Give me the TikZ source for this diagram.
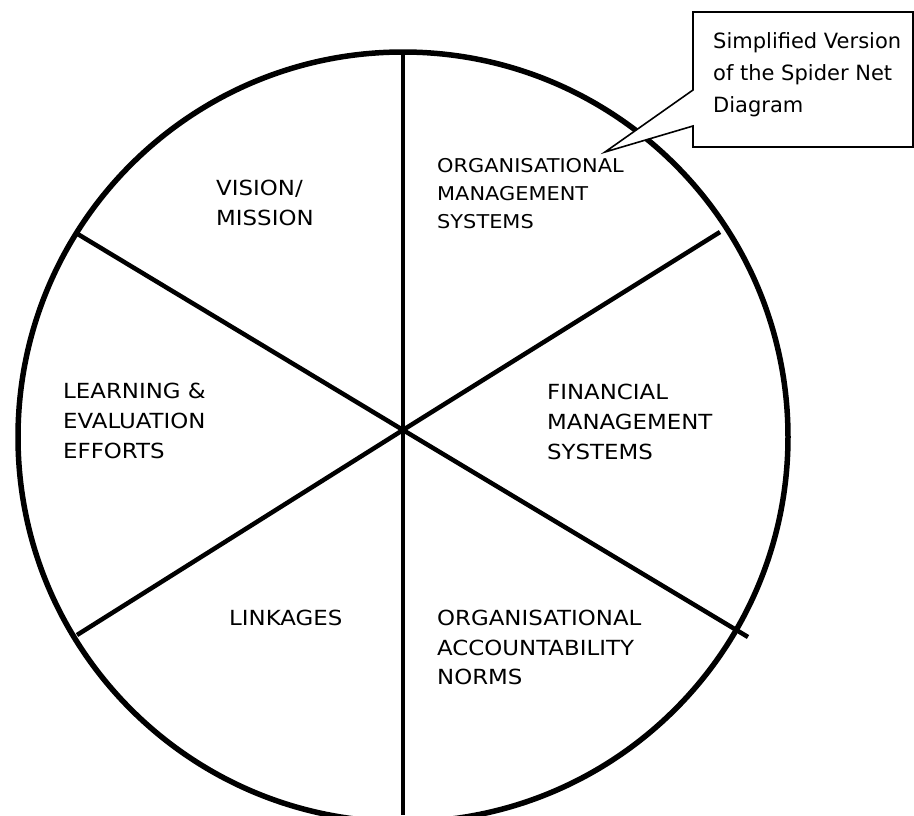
\documentclass[tikz,border=0pt]{standalone}
\usepackage{fontspec}
\setmainfont{DejaVu Sans}
\newfontfamily\sectorfont[FakeStretch=1.1]{DejaVu Sans}
\begin{document}
\begin{tikzpicture}[x=1pt,y=-1pt,
  rim/.style={line width=5.5pt},
  spoke/.style={line width=4.5pt},
  balloon/.style={draw,fill=white,line width=1.6pt,line join=miter},
  sector/.style={anchor=north west,inner sep=0pt,align=left,
    font=\sectorfont\fontsize{20.8}{30}\selectfont},
  note/.style={anchor=north west,inner sep=0pt,align=left,
    font=\fontsize{21}{32}\selectfont}]
\useasboundingbox[fill=white] (0,0) rectangle (914,815);

% wheel rim
\coordinate (centre) at (403,437);
\draw[rim] (centre) circle[radius=385pt];

% spokes meeting at the hub
\coordinate (hub) at (403,430);
\coordinate (top) at (403,52);
\coordinate (bottom) at (403,815);
\coordinate (ul) at (76,233);
\coordinate (ll) at (77,635);
\coordinate (ur) at (720,232);
\coordinate (lr) at (748,637);
\draw[line width=4pt] (top) -- (bottom);
\draw[spoke] (ul) -- (hub) -- (lr);
\draw[spoke] (ll) -- (hub) -- (ur);

% speech balloon with its pointer
\coordinate (tip) at (605,152);
\draw[balloon] (693,12) -- (913,12) -- (913,147) -- (693,147) -- (693,126)
  -- (tip) -- (693,90) -- cycle;
\node[note] (caption) at (713,32) {Simplified Version\\of the Spider Net\\Diagram};

% sector labels
\node[sector] (vision) at (216,180) {VISION/\\MISSION};
\node[sector,font=\sectorfont\fontsize{19}{28}\selectfont] (orgmgmt) at (437,158)
  {ORGANISATIONAL\\MANAGEMENT\\SYSTEMS};
\node[sector] (finance) at (547,384) {FINANCIAL\\MANAGEMENT\\SYSTEMS};
\node[sector] (learning) at (63,383) {LEARNING \&\\EVALUATION\\EFFORTS};
\node[sector] (linkages) at (229,610) {LINKAGES};
\node[sector,font=\sectorfont\fontsize{20.8}{29.5}\selectfont] (accountability) at (437,610)
  {ORGANISATIONAL\\ACCOUNTABILITY\\NORMS};
\end{tikzpicture}
\end{document}
